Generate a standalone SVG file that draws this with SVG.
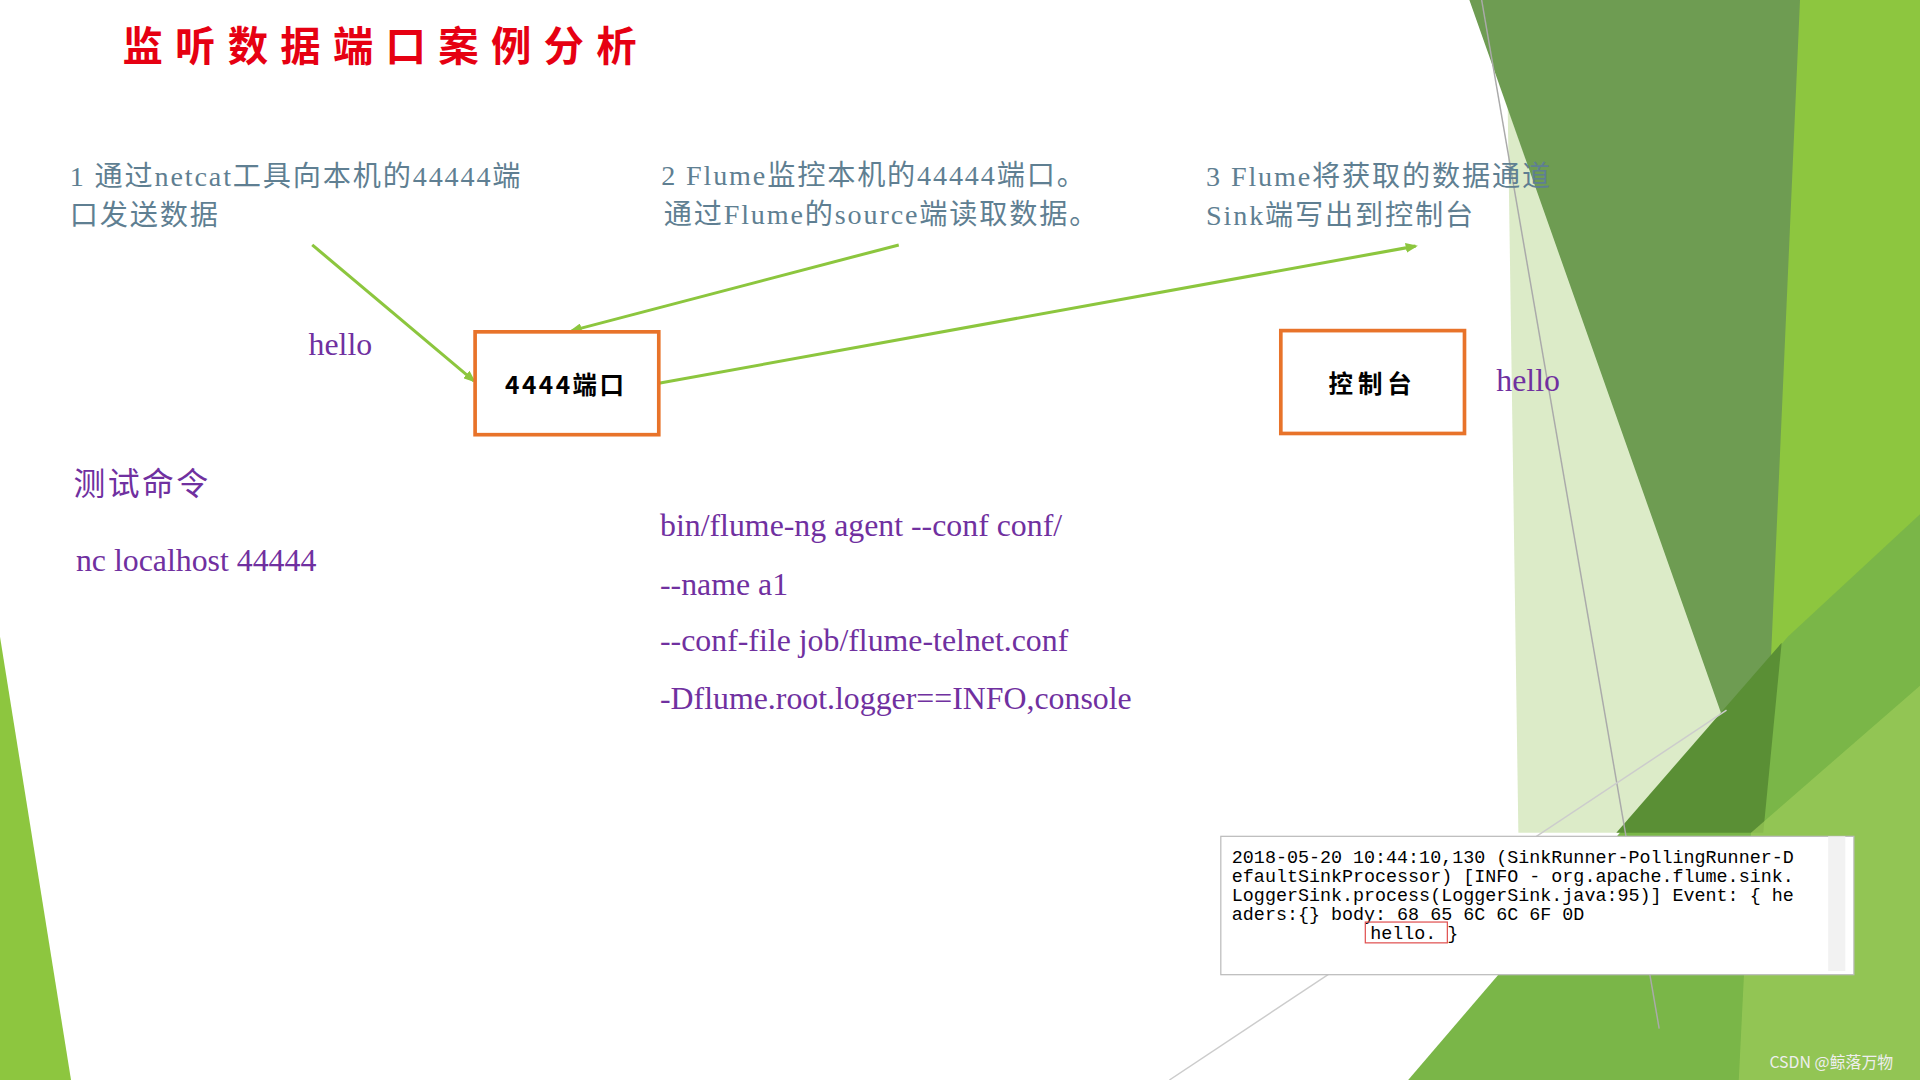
<svg xmlns="http://www.w3.org/2000/svg" width="1920" height="1080" viewBox="0 0 1920 1080">
<style>
.t{font-family:"Liberation Serif","Noto Sans CJK SC",serif;font-size:23px;fill:#5f7f92;letter-spacing:1.5px}
.p{font-family:"Liberation Serif","Noto Sans CJK SC",serif;font-size:26px;fill:#7030a0}
.c{font-family:"Liberation Mono",monospace;font-size:15px;fill:#000}
.box{fill:#fff;stroke:#e8732a;stroke-width:3}
.bt{font-family:"Noto Sans CJK SC",sans-serif;font-size:20px;font-weight:bold;text-anchor:middle}
.a{stroke:#8cc63e;stroke-width:2.5;fill:none;marker-end:url(#ah)}
</style>
<defs><marker id="ah" markerWidth="10" markerHeight="8" refX="8" refY="4" orient="auto" markerUnits="userSpaceOnUse"><path d="M0,0L10,4L0,8z" fill="#8cc63e"/></marker></defs>
<rect width="1920" height="1080" fill="#fff"/>
<g transform="scale(1.22449)">
<g id="background">
<polygon points="0,520 58,882 0,882" fill="#8dc63f"/>
<polygon points="1230,0 1290,0 1440,680 1240,680" fill="#dcebc8"/>
<polygon points="1200,0 1535,0 1440,680" fill="#6e9c52"/>
<polygon points="1470,0 1568,0 1568,882 1430,882 1440,680" fill="#8dc63f"/>
<polygon points="1150,882 1460,520 1568,420 1568,882" fill="#7ab648"/>
<polygon points="1320,680 1455,525 1440,680" fill="#5a8f35"/>
<polygon points="1430,680 1568,560 1568,882 1420,882" fill="#9ccc5a" opacity="0.7"/>
<line x1="1210" y1="0" x2="1355" y2="840" stroke="#aaa" stroke-width="1.2"/>
<line x1="955" y1="882" x2="1410" y2="580" stroke="#ccc" stroke-width="1.2"/>
</g>
<text x="100" y="50" font-family="Noto Sans CJK SC,sans-serif" font-size="33" font-weight="bold" fill="#e60012" letter-spacing="10">监听数据端口案例分析</text>
<text class="t"><tspan x="57" y="152">1 通过netcat工具向本机的44444端</tspan><tspan x="57" y="184">口发送数据</tspan></text>
<text class="t"><tspan x="540" y="151">2 Flume监控本机的44444端口。</tspan><tspan x="542" y="183">通过Flume的source端读取数据。</tspan></text>
<text class="t"><tspan x="985" y="152">3 Flume将获取的数据通道</tspan><tspan x="985" y="184">Sink端写出到控制台</tspan></text>
<g id="connectors">
<line class="a" x1="255" y1="200" x2="387" y2="311"/>
<line class="a" x1="734" y1="200" x2="467" y2="270"/>
<line class="a" x1="538" y1="313" x2="1156" y2="201"/>
</g>
<g id="port"><rect class="box" x="388" y="271" width="150" height="84"/><text class="bt" x="462" y="322" letter-spacing="2">4444端口</text></g>
<g id="console"><rect class="box" x="1046" y="270" width="150" height="84"/><text class="bt" x="1121" y="321" letter-spacing="4">控制台</text></g>
<text class="p" x="252" y="290">hello</text>
<text class="p" x="1222" y="319">hello</text>
<text class="p" x="60" y="404" font-size="20" letter-spacing="2">测试命令</text>
<text class="p" x="62" y="466">nc localhost 44444</text>
<text class="p" x="539" y="438">bin/flume-ng agent --conf conf/</text>
<text class="p" x="539" y="486">--name a1</text>
<text class="p" x="539" y="532">--conf-file job/flume-telnet.conf</text>
<text class="p" x="539" y="579">-Dflume.root.logger==INFO,console</text>
<g id="log">
<rect x="997" y="683" width="517" height="113" fill="#fff" stroke="#bbb"/>
<rect x="1493" y="683" width="14" height="110" fill="#f2f2f2"/>
<text class="c"><tspan x="1006" y="705">2018-05-20 10:44:10,130 (SinkRunner-PollingRunner-D</tspan><tspan x="1006" y="720">efaultSinkProcessor) [INFO - org.apache.flume.sink.</tspan><tspan x="1006" y="736">LoggerSink.process(LoggerSink.java:95)] Event: { he</tspan><tspan x="1006" y="751">aders:{} body: 68 65 6C 6C 6F 0D</tspan><tspan x="1119" y="767">hello. }</tspan></text>
<rect x="1115" y="753" width="67" height="17" fill="none" stroke="#e05050"/>
</g>
<text x="1445" y="872" font-family="Noto Sans CJK SC,sans-serif" font-size="13" fill="#eee">CSDN @鲸落万物</text>
</g>
</svg>
